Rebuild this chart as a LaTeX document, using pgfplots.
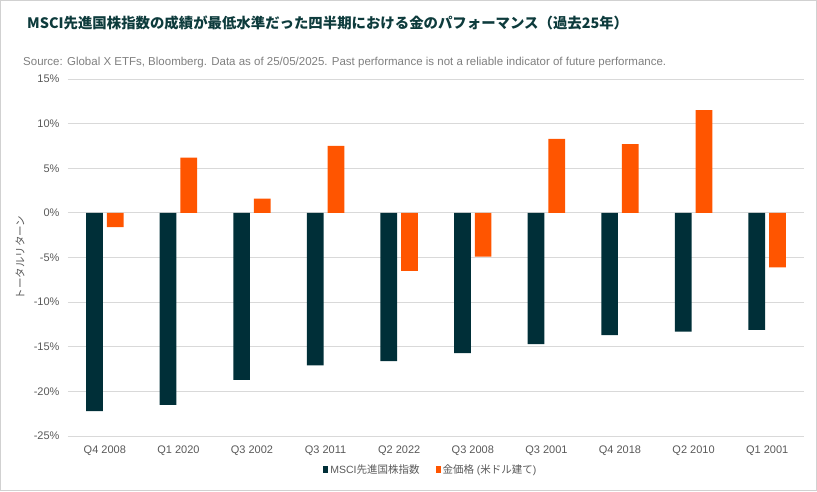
\documentclass[border=0pt]{standalone}
\usepackage{fontspec}
\setmainfont{Liberation Sans}
\newfontfamily\cjk{Noto Sans CJK JP}
\usepackage{pgfplots}
\pgfplotsset{compat=1.18}
\definecolor{msci}{HTML}{002F38}
\definecolor{gold}{HTML}{FF5500}
\definecolor{titlecol}{HTML}{0D3B3C}
\definecolor{gridcol}{HTML}{D9D9D9}
\definecolor{tickcol}{HTML}{595959}
\definecolor{srccol}{HTML}{7F7F7F}

\pgfplotstableread{
x msci gold
0 -22.2 -1.6
1 -21.5 6.2
2 -18.7 1.6
3 -17.1 7.5
4 -16.6 -6.5
5 -15.7 -4.9
6 -14.7 8.3
7 -13.7 7.7
8 -13.3 11.5
9 -13.1 -6.1
}\quarters

\begin{document}
\begin{tikzpicture}
\path[use as bounding box] (0pt,0pt) rectangle (817pt,491pt);
\draw[black!18, line width=1.2pt] (0.6pt,0.6pt) rectangle (816.4pt,490.4pt);
\node[anchor=west, text=titlecol, font=\cjk\bfseries\fontsize{14.4}{17}\selectfont, inner sep=0pt]
  at (27pt,468pt) {MSCI先進国株指数の成績が最低水準だった四半期における金のパフォーマンス（過去25年）};
\node[anchor=west, text=srccol, font=\fontsize{11.5}{13}\selectfont, inner sep=0pt]
  at (23pt,428pt) {Source: Global X ETFs, Bloomberg. Data as of 25/05/2025. Past performance is not a reliable indicator of future performance.};

\begin{axis}[
    at={(68pt,55pt)}, anchor=south west,
    scale only axis,
    width=736pt, height=357pt,
    ybar=4pt, bar width=16.7pt,
    xmin=-0.5, xmax=9.5,
    ymin=-25, ymax=15,
    xtick=data,
    xticklabels={Q4 2008, Q1 2020, Q3 2002, Q3 2011, Q2 2022, Q3 2008, Q3 2001, Q4 2018, Q2 2010, Q1 2001},
    ytick={-25,-20,...,15},
    yticklabels={-25\%,-20\%,-15\%,-10\%,-5\%,0\%,5\%,10\%,15\%},
    axis line style={draw=none},
    ymajorgrids,
    grid style={gridcol, line width=0.9pt},
    major tick length=0pt,
    tick label style={font=\fontsize{11}{13}\selectfont, text=tickcol},
    xticklabel style={yshift=-6pt},
    yticklabel style={xshift=-5pt},
    ylabel={\cjk トータルリターン},
    ylabel style={at={(axis description cs:-0.0652,0.5)}, anchor=center, font=\fontsize{10.5}{12}\selectfont, text=tickcol},
    legend style={at={(axis description cs:0.493,-0.0952)}, anchor=center, draw=none, fill=none,
        font=\fontsize{10.5}{12}\selectfont, text=tickcol, legend columns=2,
        /tikz/every even column/.append style={column sep=14pt}},
]
\addplot[fill=msci, draw=none, legend image code/.code={\fill[msci] (0pt,-3.5pt) rectangle (5pt,3.5pt);}]
    table[x=x, y=msci] {\quarters};
\addlegendentry{MSCI{\cjk 先進国株指数}}
\addplot[fill=gold, draw=none, legend image code/.code={\fill[gold] (0pt,-3.5pt) rectangle (5pt,3.5pt);}]
    table[x=x, y=gold] {\quarters};
\addlegendentry{{\cjk 金価格} ({\cjk 米ドル建て})}
\end{axis}
\end{tikzpicture}
\end{document}
